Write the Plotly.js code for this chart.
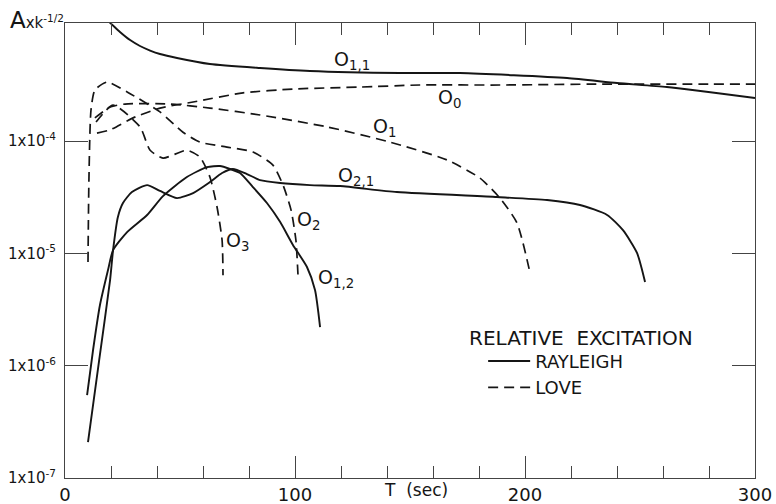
<!DOCTYPE html>
<html>
<head>
<meta charset="utf-8">
<script src="https://cdn.plot.ly/plotly-3.0.1.min.js"></script>
<style>html,body{margin:0;padding:0;background:#fff;}#chart{width:776px;height:504px;}</style>
</head>
<body>
<div id="chart"></div>
<script>
// Rayleigh (solid)
const T_o11 = [17.4, 19.6, 23.9, 28.3, 32.6, 37.0, 41.3, 48.7, 63.0, 84.8, 106.5, 145.7, 171.7, 218.3, 240.0, 261.7, 300.0];
const A_o11 = [1.23e-3, 1.13e-3, 9.38e-4, 7.94e-4, 7.03e-4, 6.41e-4, 5.97e-4, 5.5e-4, 4.86e-4, 4.48e-4, 4.21e-4, 4.04e-4, 4.04e-4, 3.65e-4, 3.29e-4, 3.03e-4, 2.42e-4];

const T_o21 = [10.0, 14.8, 19.6, 20.9, 23.0, 25.2, 29.1, 35.7, 41.3, 48.7, 55.7, 63.0, 68.3, 73.0, 79.1, 84.8, 93.5, 106.5, 119.6, 144.3, 187.8, 209.6, 223.9, 235.7, 242.6, 248.7, 252.2];
const A_o21 = [2.09e-7, 1.10e-6, 5.79e-6, 1.07e-5, 2.11e-5, 2.81e-5, 3.52e-5, 4.06e-5, 3.6e-5, 3.11e-5, 3.45e-5, 4.32e-5, 5.2e-5, 5.65e-5, 5.09e-5, 4.5e-5, 4.24e-5, 4.06e-5, 3.98e-5, 3.52e-5, 3.18e-5, 2.99e-5, 2.7e-5, 2.2e-5, 1.61e-5, 1.01e-5, 5.56e-6];

const T_o12 = [9.6, 12.2, 15.2, 18.7, 20.9, 27.0, 35.7, 42.6, 53.0, 61.7, 67.4, 71.7, 76.1, 81.7, 87.8, 93.5, 99.1, 105.2, 108.7, 110.9];
const A_o12 = [5.48e-7, 1.38e-6, 3.47e-6, 7.11e-6, 1.07e-5, 1.55e-5, 2.2e-5, 3.24e-5, 4.79e-5, 5.87e-5, 6.0e-5, 5.65e-5, 5.2e-5, 3.9e-5, 2.81e-5, 1.91e-5, 1.19e-5, 7.57e-6, 4.72e-6, 2.21e-6];

// Love (dashed)
const T_o0 = [13.9, 19.6, 29.6, 41.3, 55.7, 77.4, 99.1, 128.3, 154.3, 189.1, 232.6, 276.1, 300.0];
const A_o0 = [1.18e-4, 1.26e-4, 1.61e-4, 1.97e-4, 2.23e-4, 2.69e-4, 2.91e-4, 3.03e-4, 3.16e-4, 3.16e-4, 3.22e-4, 3.22e-4, 3.22e-4];

const T_o1 = [13.0, 19.6, 26.1, 45.7, 63.0, 84.8, 113.9, 141.3, 166.1, 180.4, 189.1, 196.5, 202.2];
const A_o1 = [1.61e-4, 2.01e-4, 2.14e-4, 2.14e-4, 1.97e-4, 1.71e-4, 1.34e-4, 9.8e-5, 6.8e-5, 4.69e-5, 3.11e-5, 1.87e-5, 6.7e-6];

const T_o2 = [10.0, 10.4, 11.3, 13.0, 18.3, 27.0, 41.3, 51.3, 58.7, 70.4, 81.7, 90.4, 94.8, 98.3, 100.4, 101.3];
const A_o2 = [8.4e-6, 4.5e-5, 1.89e-4, 2.85e-4, 3.36e-4, 2.74e-4, 1.82e-4, 1.2e-4, 9.8e-5, 8.85e-5, 8.0e-5, 6.12e-5, 4.06e-5, 2.43e-5, 1.31e-5, 6.4e-6];

const T_o3 = [13.5, 20.9, 32.6, 37.0, 42.6, 53.0, 58.7, 63.0, 66.1, 68.3, 68.7];
const A_o3 = [1.48e-4, 2.09e-4, 1.34e-4, 8.3e-5, 7.06e-5, 8.3e-5, 7.2e-5, 4.79e-5, 2.59e-5, 1.31e-5, 6.4e-6];

const yTickVals = [1e-7, 1e-6, 1e-5, 1e-4];
const yTickText = ['1x10<sup>-7</sup>', '1x10<sup>-6</sup>', '1x10<sup>-5</sup>', '1x10<sup>-4</sup>'];

// curve labels: [text, T, log10(A)]
const curveLabels = [
  ['O<sub>1,1</sub>', 124.8, -3.278],
  ['O<sub>0</sub>', 167.0, -3.616],
  ['O<sub>1</sub>', 138.7, -3.883],
  ['O<sub>2,1</sub>', 126.5, -4.311],
  ['O<sub>2</sub>', 105.7, -4.703],
  ['O<sub>3</sub>', 74.8, -4.890],
  ['O<sub>1,2</sub>', 117.8, -5.219]
];

const INK = '#151515';
const FONT = 'DejaVu Sans, sans-serif';
const solid = {color: INK, width: 1.9, shape: 'spline', smoothing: 0.6};
const dashed = {color: INK, width: 1.7, dash: '10px,6px', shape: 'spline', smoothing: 0.6};

const traces = [
  {x: T_o11, y: A_o11, mode: 'lines', line: solid, name: 'RAYLEIGH', showlegend: true},
  {x: T_o21, y: A_o21, mode: 'lines', line: solid, showlegend: false},
  {x: T_o12, y: A_o12, mode: 'lines', line: solid, showlegend: false},
  {x: T_o0, y: A_o0, mode: 'lines', line: dashed, name: 'LOVE', showlegend: true},
  {x: T_o1, y: A_o1, mode: 'lines', line: dashed, showlegend: false},
  {x: T_o2, y: A_o2, mode: 'lines', line: dashed, showlegend: false},
  {x: T_o3, y: A_o3, mode: 'lines', line: dashed, showlegend: false}
];

const annotations = curveLabels.map(l => ({
  text: l[0], x: l[1], y: l[2], xref: 'x', yref: 'y', showarrow: false,
  font: {family: FONT, size: 19, color: INK}
}));
annotations.push({text: 'T  (sec)', xref: 'paper', yref: 'paper', x: 0.5087, y: -0.026,
  xanchor: 'center', yanchor: 'middle', showarrow: false, font: {family: FONT, size: 17, color: INK}});
annotations.push({text: '<span style="font-size:23px">A</span>xk<sup>-1/2</sup>', xref: 'paper', yref: 'paper',
  x: -0.0826, y: 1.0066, xanchor: 'left', yanchor: 'middle', showarrow: false, font: {family: FONT, size: 15, color: INK}});
annotations.push({text: 'RELATIVE  EXCITATION', xref: 'paper', yref: 'paper', x: 0.5826, y: 0.3077,
  xanchor: 'left', yanchor: 'middle', showarrow: false, font: {family: FONT, size: 20, color: INK}});

const layout = {
  width: 776, height: 504,
  margin: {l: 65, r: 21, t: 23, b: 26, pad: 0},
  paper_bgcolor: '#fff', plot_bgcolor: '#fff',
  font: {family: FONT, color: INK},
  showlegend: true,
  legend: {x: 0.606, y: 0.297, xanchor: 'left', yanchor: 'top', bgcolor: 'rgba(0,0,0,0)',
    font: {family: FONT, size: 18, color: INK}, tracegroupgap: 0, itemwidth: 42},
  xaxis: {
    range: [0, 300], tickmode: 'linear', tick0: 0, dtick: 100,
    ticks: 'inside', ticklen: 22, tickcolor: '#444', tickwidth: 1,
    minor: {tickmode: 'linear', tick0: 0, dtick: 20, ticks: 'inside', ticklen: 12, tickcolor: '#444', tickwidth: 1, showgrid: false},
    showline: true, linecolor: '#444', linewidth: 1, mirror: 'allticks',
    showgrid: false, zeroline: false,
    tickfont: {family: FONT, size: 18, color: INK}
  },
  yaxis: {
    type: 'log', range: [-7, -2.948],
    tickmode: 'array', tickvals: yTickVals, ticktext: yTickText,
    ticks: 'inside', ticklen: 23, tickcolor: '#444', tickwidth: 1,
    showline: true, linecolor: '#444', linewidth: 1, mirror: 'allticks',
    showgrid: false, zeroline: false, ticklabelstandoff: 5,
    tickfont: {family: FONT, size: 15, color: INK}
  },
  annotations: annotations
};

Plotly.newPlot('chart', traces, layout, {displayModeBar: false, staticPlot: true});
</script>
</body>
</html>
